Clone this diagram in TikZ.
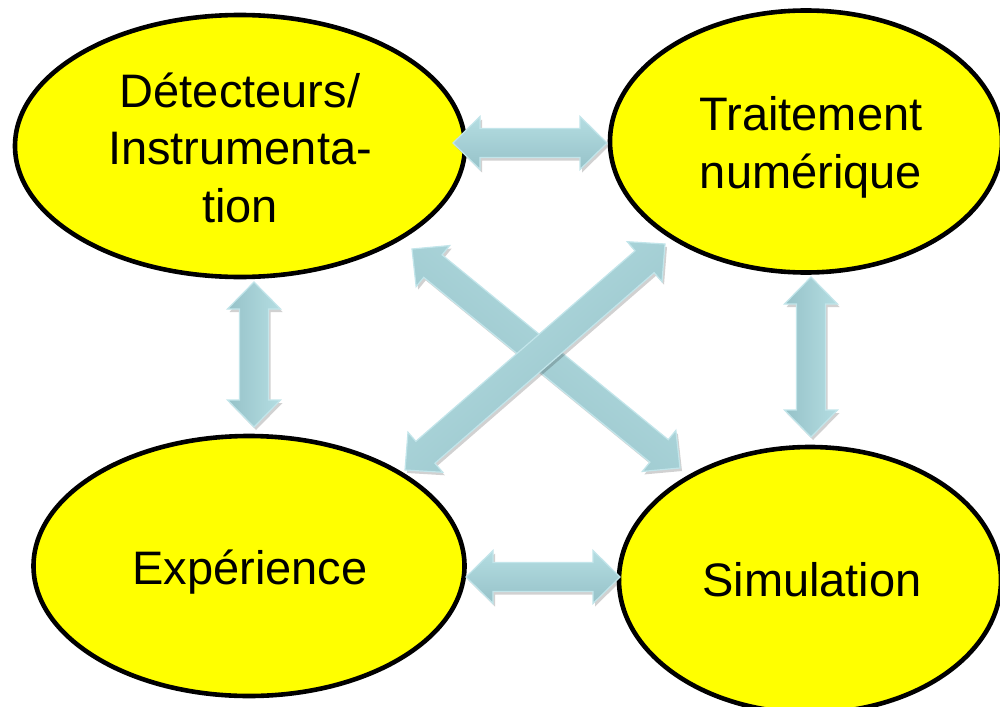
\documentclass[tikz,border=0pt]{standalone}
\usepackage{fontspec}
\setmainfont{Liberation Sans}
\usetikzlibrary{shapes.geometric,calc,shadows}
\definecolor{yel}{RGB}{255,255,0}
\definecolor{arlight}{RGB}{180,221,226}
\definecolor{ardark}{RGB}{150,194,200}
\definecolor{aredge}{RGB}{194,229,234}
\tikzset{
  bubble/.style={ellipse, draw=black, line width=4.6pt, fill=yel, inner sep=0pt},
  lbl/.style={font=\fontsize{47}{57.5}\selectfont, align=center, inner sep=0pt},
  barrow/.style={draw=aredge, line width=1.2pt, line join=miter,
    top color=arlight, bottom color=ardark,
    drop shadow={shadow xshift=2pt, shadow yshift=-3pt, opacity=0.18, fill=black}},
}
% #1 shading angle, #2 start, #3 end
\newcommand\blockarrow[3]{%
  \path[barrow, shading angle=#1] let \p1=(#2), \p2=(#3),
    \n1={atan2(\y2-\y1,\x2-\x1)}, \n2={\n1+90}, \n3={\n1-90}, \n4={\n1+180} in
    (\p1)
    -- ($(\p1)+(\n1:27pt)+(\n2:26.5pt)$)
    -- ($(\p1)+(\n1:27pt)+(\n2:14.5pt)$)
    -- ($(\p2)+(\n4:27pt)+(\n2:14.5pt)$)
    -- ($(\p2)+(\n4:27pt)+(\n2:26.5pt)$)
    -- (\p2)
    -- ($(\p2)+(\n4:27pt)+(\n3:26.5pt)$)
    -- ($(\p2)+(\n4:27pt)+(\n3:14.5pt)$)
    -- ($(\p1)+(\n1:27pt)+(\n3:14.5pt)$)
    -- ($(\p1)+(\n1:27pt)+(\n3:26.5pt)$)
    -- cycle;}
\begin{document}
\begin{tikzpicture}[x=1pt, y=-1pt]
  \useasboundingbox (0,0) rectangle (1000,706);
  \clip (0,0) rectangle (1000,706);
  \fill[white] (0,0) rectangle (1000,706);

  % ellipses
  \node[bubble, minimum width=450pt, minimum height=262pt] (det) at (240,146) {};
  \node[bubble, minimum width=392pt, minimum height=262pt] (trait) at (806,141.5) {};
  \node[bubble, minimum width=431pt, minimum height=260pt] (exp) at (249,566) {};
  \node[bubble, minimum width=382pt, minimum height=266pt] (sim) at (810,580) {};

  % texts
  \node[lbl] (dett) at (240,147.7) {Détecteurs/\\Instrumenta-\\tion};
  \node[lbl] (traitt) at (811,147.1) {Traitement\\numérique};
  \node[lbl, anchor=base] (expt) at (250,584) {Expérience};
  \node[lbl, anchor=base] (simt) at (812,596) {Simulation};

  % arrow end points at the ellipses
  \coordinate (det-e) at (453,143);
  \coordinate (trait-w) at (607,143);
  \coordinate (exp-e) at (466,577);
  \coordinate (sim-w) at (620,577);
  \coordinate (det-s) at (254,282);
  \coordinate (exp-n) at (254,427);
  \coordinate (trait-s) at (811,277);
  \coordinate (sim-n) at (811,437);
  \coordinate (det-se) at (412,249);
  \coordinate (sim-nw) at (680,468);
  \coordinate (exp-ne) at (405,470);
  \coordinate (trait-sw) at (665,244);

  % double block arrows
  \blockarrow{0}{det-e}{trait-w}
  \blockarrow{0}{exp-e}{sim-w}
  \blockarrow{-90}{det-s}{exp-n}
  \blockarrow{-90}{trait-s}{sim-n}
  \blockarrow{-39}{det-se}{sim-nw}
  \blockarrow{41}{exp-ne}{trait-sw}
\end{tikzpicture}
\end{document}
